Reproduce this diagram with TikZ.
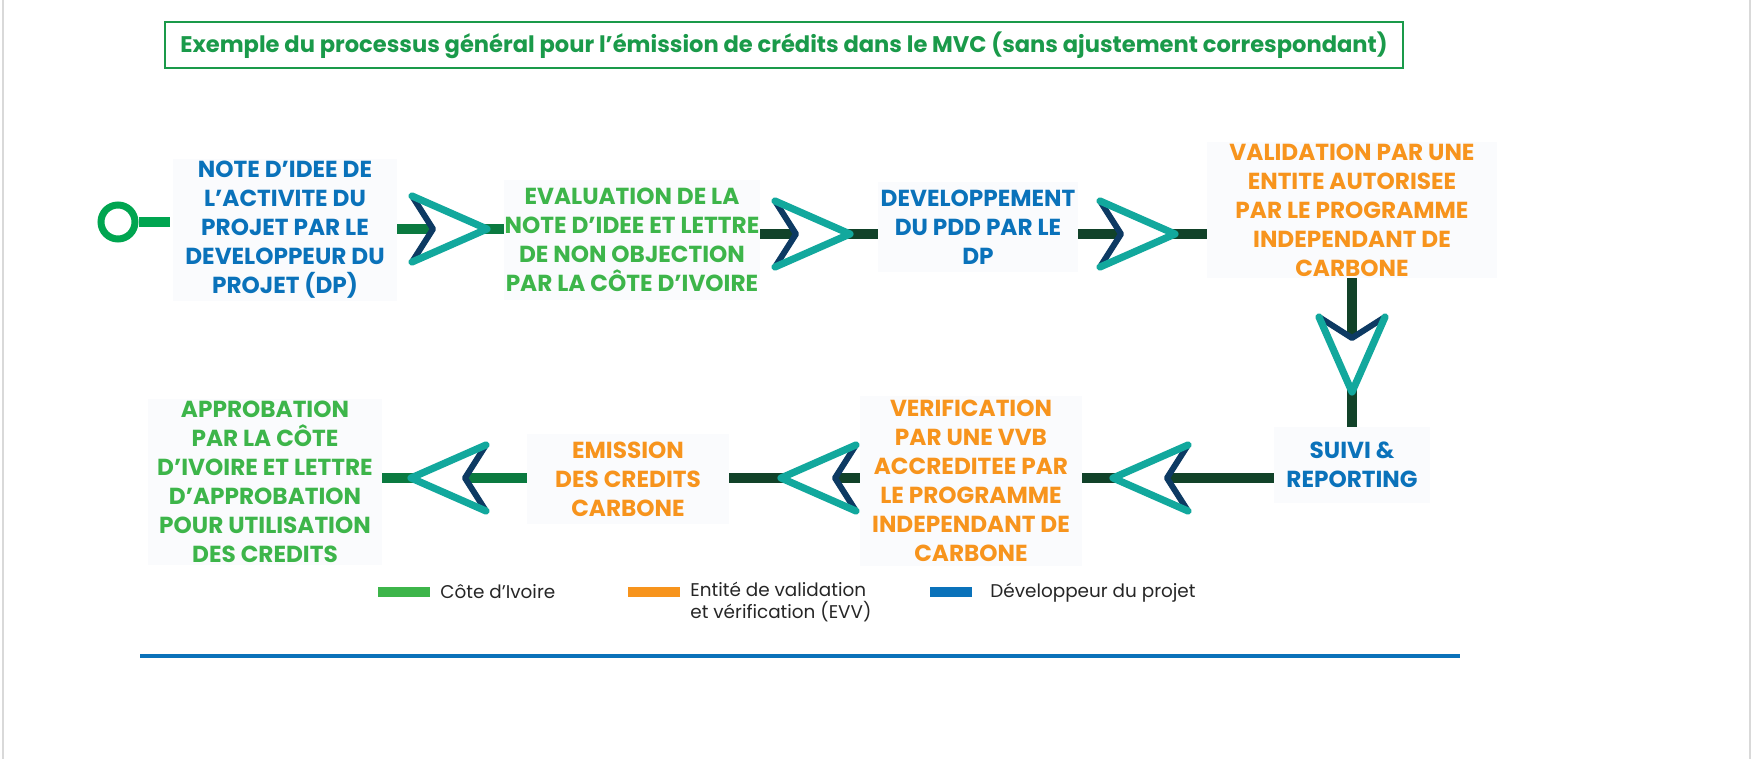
\documentclass[tikz,border=0pt]{standalone}
\usepackage{fontspec}
\setmainfont{Poppins}
\newfontfamily\popb{Poppins Bold}
\definecolor{tgreen}{HTML}{1A9A4A}
\definecolor{lgreen}{HTML}{3DB54A}
\definecolor{cgreen}{HTML}{00A550}
\definecolor{dblue}{HTML}{0A72BA}
\definecolor{orng}{HTML}{F7941D}
\definecolor{dkg}{HTML}{114229}
\definecolor{midg}{HTML}{0B7A40}
\definecolor{teal}{HTML}{12A89D}
\definecolor{navy}{HTML}{0D3A63}
\definecolor{boxbg}{HTML}{FAFBFD}
\tikzset{
 stepbox/.style={fill=boxbg,align=center,font=\popb\fontsize{11.6}{14.5}\selectfont,inner sep=0pt},
 conn/.style={dkg,line width=5pt},
 legtxt/.style={anchor=west,align=left,font=\fontsize{9.2}{11}\selectfont,text=black!85,inner sep=0pt}
}
\newcommand\mychev[3]{%
 \begin{scope}[shift={(#1,#2)},rotate=#3]
  \fill[white] (-38,-33) -- (37,0) -- (-38,33) -- (-17,0) -- cycle;
  \draw[navy,line width=3pt,line cap=round,line join=round] (-38,-33) -- (-17,0) -- (-38,33);
  \draw[teal,line width=3.6pt,line cap=round,line join=round] (-38,-33) -- (37,0) -- (-38,33);
 \end{scope}}
\begin{document}
\begin{tikzpicture}[x=0.5pt,y=-0.5pt]
\useasboundingbox (0,0) rectangle (1753,759);
\fill[white] (0,0) rectangle (1753,759);
\draw[black!15,line width=1pt] (3,0) -- (3,759) (1750,0) -- (1750,759);
% title
\node[draw=tgreen,line width=0.6pt,minimum width=619pt,minimum height=23pt,inner sep=0pt,text=tgreen,font=\fontsize{11.3}{12}\selectfont\bfseries] (title) at (784,45) {Exemple du processus général pour l’émission de crédits dans le MVC (sans ajustement correspondant)};
% boxes
\node[stepbox,text=dblue,minimum width=112pt,minimum height=71pt] (b1) at (285,230) {NOTE D’IDEE DE\\L’ACTIVITE DU\\PROJET PAR LE\\DEVELOPPEUR DU\\PROJET (DP)};
\node[stepbox,text=lgreen,minimum width=128pt,minimum height=60pt] (b2) at (632,240) {EVALUATION DE LA\\NOTE D’IDEE ET LETTRE\\DE NON OBJECTION\\PAR LA CÔTE D’IVOIRE};
\node[stepbox,text=dblue,minimum width=100pt,minimum height=45pt] (b3) at (978,227) {DEVELOPPEMENT\\DU PDD PAR LE\\DP};
\node[stepbox,text=orng,minimum width=145pt,minimum height=68pt] (b4) at (1352,210) {VALIDATION PAR UNE\\ENTITE AUTORISEE\\PAR LE PROGRAMME\\INDEPENDANT DE\\CARBONE};
\node[stepbox,text=dblue,minimum width=78pt,minimum height=38pt] (b5) at (1352,465) {SUIVI \&\\REPORTING};
\node[stepbox,text=orng,minimum width=111pt,minimum height=85pt] (b6) at (971,481) {VERIFICATION\\PAR UNE VVB\\ACCREDITEE PAR\\LE PROGRAMME\\INDEPENDANT DE\\CARBONE};
\node[stepbox,text=orng,minimum width=101pt,minimum height=45pt] (b7) at (628,479) {EMISSION\\DES CREDITS\\CARBONE};
\node[stepbox,text=lgreen,minimum width=117pt,minimum height=83pt] (b8) at (265,482) {APPROBATION\\PAR LA CÔTE\\D’IVOIRE ET LETTRE\\D’APPROBATION\\POUR UTILISATION\\DES CREDITS};
% start
\node[circle,draw=cgreen,line width=3.5pt,minimum size=17pt,inner sep=0pt] (st) at (118,222) {};
\draw[cgreen,line width=5pt] (st.east) -- (170,222);
% connectors
\coordinate (c1) at (b1.east |- 0,229);
\draw[midg,line width=5pt] (c1) -- (b2.west |- c1);
\draw[conn] (b2.east |- 0,234) -- (b3.west |- 0,234);
\draw[conn] (b3.east |- 0,234) -- (b4.west |- 0,234);
\draw[conn] (b4.south) -- (b5.north);
\draw[conn] (b5.west |- 0,478) -- (b6.east |- 0,478);
\draw[conn] (b6.west |- 0,478) -- (b7.east |- 0,478);
\draw[midg,line width=5pt] (b7.west |- 0,478) -- (b8.east |- 0,478);
\mychev{450}{229}{0}
\mychev{813}{234}{0}
\mychev{1138}{234}{0}
\mychev{1352}{355}{-90}
\mychev{1150}{478}{180}
\mychev{818}{478}{180}
\mychev{448}{478}{180}
% legend
\fill[lgreen] (378,587) rectangle (430,597);
\node[legtxt] (l1) at (440,592) {Côte d’Ivoire};
\fill[orng] (628,587) rectangle (680,597);
\node[legtxt,anchor=north west] (l2) at (690,582) {Entité de validation\\et vérification (EVV)};
\fill[dblue] (930,587) rectangle (972,597);
\node[legtxt] (l3) at (990,593) {Développeur du projet};
\draw[dblue,line width=2pt] (140,656) -- (1460,656);
\end{tikzpicture}
\end{document}
